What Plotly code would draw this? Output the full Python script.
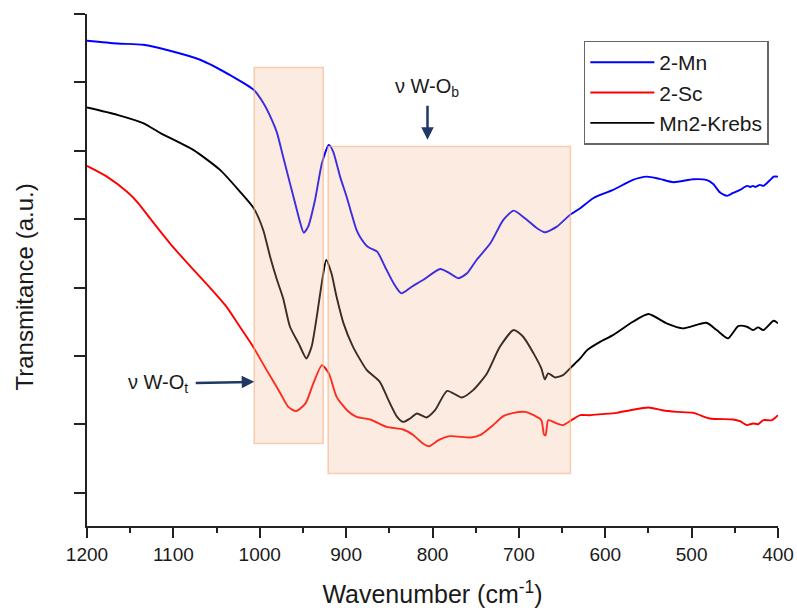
import plotly.graph_objects as go

# ---- data (wavenumber in cm-1, transmittance in arbitrary offset units) ----
mn_x = [1200, 1165, 1135, 1104, 1069, 1031, 1007, 996, 986, 980, 973, 965, 961, 953, 949, 944, 936, 928,
        920, 915, 907, 899, 895, 888, 884, 876, 872, 864, 855, 845, 836, 824, 811, 791, 780, 770, 760,
        749, 733, 718, 706, 693, 679, 670, 656, 641, 629, 614, 591, 568, 552, 537, 521, 498, 483, 475,
        467, 459, 452, 444, 436, 432, 429, 426, 421, 417, 413, 409, 405, 400]
mn_y = [6.609, 6.569, 6.550, 6.463, 6.331, 6.082, 5.892, 5.701, 5.452, 5.262, 4.915, 4.523, 4.329, 3.940,
        3.802, 3.890, 4.281, 4.818, 5.086, 4.988, 4.622, 4.310, 4.135, 3.842, 3.744, 3.608, 3.574, 3.524,
        3.304, 3.061, 2.915, 3.012, 3.110, 3.271, 3.208, 3.135, 3.208, 3.403, 3.647, 3.988, 4.124, 4.013,
        3.867, 3.808, 3.890, 4.061, 4.160, 4.306, 4.427, 4.574, 4.622, 4.588, 4.540, 4.584, 4.574, 4.515,
        4.388, 4.340, 4.383, 4.427, 4.486, 4.471, 4.486, 4.471, 4.501, 4.486, 4.526, 4.574, 4.622, 4.622]

sc_x = [1200, 1177, 1154, 1140, 1127, 1104, 1080, 1057, 1038, 1023, 1007, 992, 976, 967, 958, 947, 938, 928,
        920, 911, 899, 888, 872, 853, 834, 822, 811, 804, 793, 780, 756, 745, 730, 718, 706, 693, 683,
        674, 671, 669, 666, 656, 649, 639, 629, 618, 604, 587, 571, 550, 534, 517, 498, 479, 452, 444,
        436, 432, 429, 423, 417, 407, 400]
sc_y = [4.779, 4.622, 4.403, 4.225, 4.010, 3.647, 3.304, 2.988, 2.710, 2.426, 2.120, 1.792, 1.451, 1.255, 1.192,
        1.305, 1.597, 1.865, 1.744, 1.401, 1.206, 1.108, 1.070, 0.962, 0.924, 0.840, 0.719, 0.679, 0.767,
        0.826, 0.807, 0.840, 0.987, 1.119, 1.167, 1.182, 1.133, 1.060, 0.855, 0.840, 1.060, 1.012, 0.987,
        1.060, 1.133, 1.133, 1.148, 1.167, 1.206, 1.246, 1.206, 1.182, 1.167, 1.085, 1.070, 1.045, 0.987,
        1.001, 1.012, 1.001, 1.060, 1.060, 1.133]

kr_x = [1200, 1165, 1135, 1115, 1077, 1046, 1023, 1007, 996, 988, 980, 973, 965, 955, 946, 940, 934,
        928, 923, 917, 911, 903, 892, 876, 861, 851, 841, 834, 826, 818, 807, 797, 783, 766, 753, 737,
        722, 706, 695, 683, 674, 670, 666, 658, 649, 639, 629, 621, 606, 591, 568, 550, 529, 510, 483,
        471, 458, 446, 436, 429, 423, 417, 405, 400]
kr_y = [5.632, 5.526, 5.404, 5.258, 5.013, 4.720, 4.403, 4.160, 3.842, 3.451, 3.110, 2.846, 2.426, 2.183,
        1.963, 2.133, 2.572, 3.080, 3.403, 3.208, 2.861, 2.476, 2.133, 1.792, 1.621, 1.353, 1.108, 1.035,
        1.085, 1.158, 1.100, 1.206, 1.489, 1.392, 1.499, 1.744, 2.133, 2.378, 2.280, 2.037, 1.817, 1.656,
        1.744, 1.685, 1.719, 1.840, 1.963, 2.085, 2.206, 2.304, 2.499, 2.612, 2.476, 2.403, 2.485, 2.378,
        2.256, 2.436, 2.426, 2.378, 2.417, 2.378, 2.514, 2.476]

series_names = ["2-Mn", "2-Sc", "Mn2-Krebs"]
series_colors = ["#0000ff", "#ff0000", "#000000"]

x_ticks = [1200, 1100, 1000, 900, 800, 700, 600, 500, 400]

# highlighted regions: (x0, x1, y0, y1)
region_t = (1006.4, 926.5, 0.719, 6.218)
region_b = (920.8, 640.3, 0.280, 5.061)

FONT = "Arial, Liberation Sans, sans-serif"

fig = go.Figure()
for name, xs, ys, col in zip(series_names, [mn_x, sc_x, kr_x], [mn_y, sc_y, kr_y], series_colors):
    fig.add_trace(go.Scatter(x=xs, y=ys, mode="lines", name=name,
                             line=dict(color=col, width=1.9, shape="spline", smoothing=0.6)))

for (x0, x1, y0, y1) in [region_t, region_b]:
    fig.add_shape(type="rect", x0=x0, x1=x1, y0=y0, y1=y1, xref="x", yref="y", layer="above",
                  fillcolor="rgba(244,177,131,0.25)", line=dict(color="rgba(244,177,131,0.6)", width=1.5))

arrow_col = "#1f3864"
# nu W-O_b : label with arrow pointing down onto the bridging region
fig.add_annotation(x=805.8, y=5.16, text="ν W-O<sub>b</sub>", showarrow=True, ax=0, ay=-52,
                   arrowhead=2, arrowsize=1, arrowwidth=2.5, arrowcolor=arrow_col, startstandoff=4,
                   font=dict(family=FONT, size=20, color="#1a1a1a"))
# nu W-O_t : label with arrow pointing right onto the terminal region
fig.add_annotation(x=1006.4, y=1.621, text="ν W-O<sub>t</sub>", showarrow=True, ax=-96, ay=2,
                   arrowhead=2, arrowsize=1, arrowwidth=2.5, arrowcolor=arrow_col, startstandoff=6,
                   font=dict(family=FONT, size=20, color="#1a1a1a"))

# y-axis title
fig.add_annotation(xref="paper", yref="paper", x=-0.091, y=0.466, text="Transmitance (a.u.)",
                   textangle=-90, showarrow=False, font=dict(family=FONT, size=24, color="#1a1a1a"),
                   xanchor="center", yanchor="middle")

fig.update_layout(
    width=797, height=610,
    margin=dict(l=87, r=19, t=14, b=84),
    plot_bgcolor="white", paper_bgcolor="white",
    font=dict(family=FONT, color="#1a1a1a", size=19),
    showlegend=True,
    legend=dict(x=0.719, y=0.948, xanchor="left", yanchor="top",
                bordercolor="#666666", borderwidth=1.5, bgcolor="white",
                font=dict(family=FONT, size=21, color="#1a1a1a"), itemwidth=64),
    xaxis=dict(range=[1200, 400], tickvals=x_ticks, ticktext=[str(v) for v in x_ticks], automargin=False,
               showgrid=False, zeroline=False, showline=True, linecolor="#222222", linewidth=2,
               ticks="outside", ticklen=10, tickwidth=2, tickcolor="#222222",
               minor=dict(dtick=50, ticks="outside", ticklen=5, tickwidth=2, tickcolor="#222222", showgrid=False),
               tickfont=dict(family=FONT, size=19, color="#1a1a1a"),
               title=dict(text="Wavenumber (cm<sup>-1</sup>)", font=dict(family=FONT, size=25, color="#1a1a1a"),
                          standoff=22)),
    yaxis=dict(range=[-0.4875, 7.0], tickvals=[0, 1, 2, 3, 4, 5, 6, 7], showticklabels=False, automargin=False,
               showgrid=False, zeroline=False, showline=True, linecolor="#222222", linewidth=2,
               ticks="outside", ticklen=11, tickwidth=2, tickcolor="#222222"),
)

fig.write_html("out.html")
